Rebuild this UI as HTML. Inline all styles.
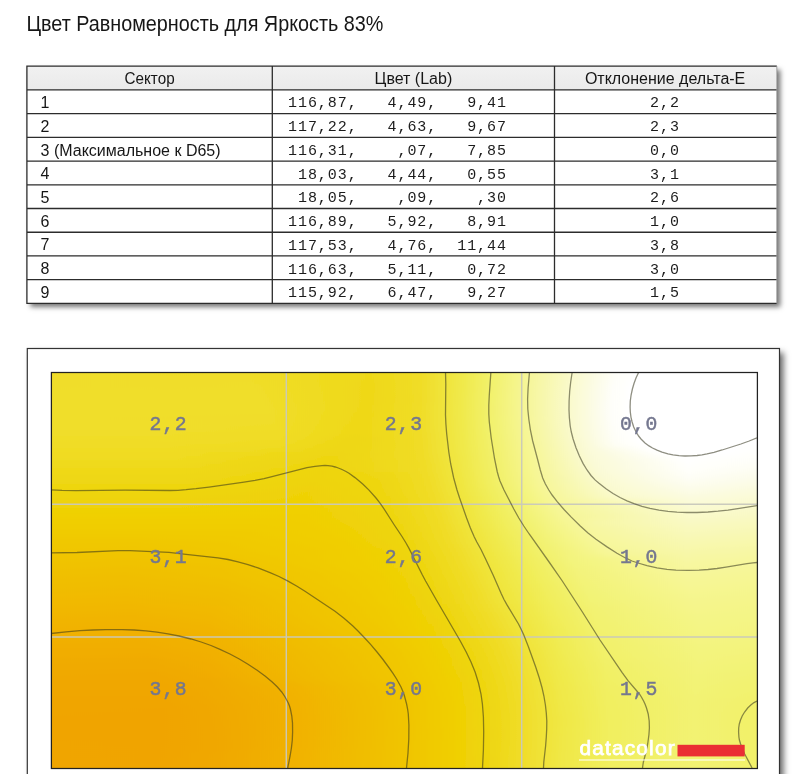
<!DOCTYPE html>
<html lang="ru"><head><meta charset="utf-8"><title>Цвет Равномерность</title>
<style>html,body{margin:0;padding:0;background:#fff}body{width:805px;height:774px;overflow:hidden}svg{display:block}</style>
</head><body>
<svg width="805" height="774" viewBox="0 0 805 774">
<defs>
<filter id="sh" x="-5%" y="-5%" width="110%" height="115%"><feDropShadow dx="3.5" dy="3.5" stdDeviation="2.7" flood-color="#000" flood-opacity=".55"/></filter>
<filter id="sh2" x="-5%" y="-5%" width="110%" height="110%"><feDropShadow dx="4" dy="4" stdDeviation="3" flood-color="#000" flood-opacity=".6"/></filter>
<filter id="vb" x="-2%" y="-5%" width="104%" height="110%"><feGaussianBlur stdDeviation="0 2.5"/></filter>
<linearGradient id="hd" x1="0" y1="0" x2="0" y2="1"><stop offset="0" stop-color="#f1f1f1"/><stop offset="1" stop-color="#eaeaea"/></linearGradient>
<clipPath id="cp"><rect x="51" y="372" width="706" height="396"/></clipPath>
<linearGradient id="g0"><stop offset="0" stop-color="#f0dd28"/><stop offset="0.0694" stop-color="#f0de2a"/><stop offset="0.1657" stop-color="#f0dd28"/><stop offset="0.2748" stop-color="#f0dd29"/><stop offset="0.4518" stop-color="#efd919"/><stop offset="0.5212" stop-color="#f0dd27"/><stop offset="0.5822" stop-color="#f0e94b"/><stop offset="0.6261" stop-color="#f2f26e"/><stop offset="0.6756" stop-color="#f6f699"/><stop offset="0.7465" stop-color="#fafad3"/><stop offset="0.7975" stop-color="#fefef8"/><stop offset="0.8272" stop-color="#fff"/><stop offset="1" stop-color="#fff"/></linearGradient>
<linearGradient id="g1"><stop offset="0" stop-color="#f0dd29"/><stop offset="0.0694" stop-color="#f0de2b"/><stop offset="0.1657" stop-color="#f0dd29"/><stop offset="0.2776" stop-color="#f0dd29"/><stop offset="0.4518" stop-color="#efd919"/><stop offset="0.5212" stop-color="#f0dc26"/><stop offset="0.5807" stop-color="#f0e94a"/><stop offset="0.6246" stop-color="#f2f26d"/><stop offset="0.6742" stop-color="#f6f699"/><stop offset="0.745" stop-color="#fafad3"/><stop offset="0.796" stop-color="#fefef8"/><stop offset="0.8258" stop-color="#fff"/><stop offset="1" stop-color="#fff"/></linearGradient>
<linearGradient id="g2"><stop offset="0" stop-color="#f0dd29"/><stop offset="0.068" stop-color="#f0de2b"/><stop offset="0.1657" stop-color="#f0dd29"/><stop offset="0.2805" stop-color="#f0de29"/><stop offset="0.4518" stop-color="#efd818"/><stop offset="0.5227" stop-color="#f0dd27"/><stop offset="0.5807" stop-color="#f0e94a"/><stop offset="0.6246" stop-color="#f2f26d"/><stop offset="0.6742" stop-color="#f6f699"/><stop offset="0.7436" stop-color="#fafad2"/><stop offset="0.7946" stop-color="#fefef8"/><stop offset="0.8229" stop-color="#fff"/><stop offset="1" stop-color="#fff"/></linearGradient>
<linearGradient id="g3"><stop offset="0" stop-color="#f0dd29"/><stop offset="0.068" stop-color="#f0de2b"/><stop offset="0.1657" stop-color="#f0dd29"/><stop offset="0.2833" stop-color="#f0de2a"/><stop offset="0.4518" stop-color="#efd818"/><stop offset="0.5227" stop-color="#f0dd27"/><stop offset="0.5822" stop-color="#f0e94b"/><stop offset="0.6246" stop-color="#f2f26e"/><stop offset="0.6728" stop-color="#f6f698"/><stop offset="0.7436" stop-color="#fafad3"/><stop offset="0.7946" stop-color="#fefef9"/><stop offset="0.8215" stop-color="#fff"/><stop offset="1" stop-color="#fff"/></linearGradient>
<linearGradient id="g4"><stop offset="0" stop-color="#f0de2a"/><stop offset="0.0666" stop-color="#f0de2b"/><stop offset="0.1643" stop-color="#f0de2a"/><stop offset="0.2875" stop-color="#f0de2a"/><stop offset="0.4504" stop-color="#efd818"/><stop offset="0.5227" stop-color="#f0dd27"/><stop offset="0.5807" stop-color="#f0e94a"/><stop offset="0.6232" stop-color="#f2f16d"/><stop offset="0.6728" stop-color="#f6f699"/><stop offset="0.7422" stop-color="#fafad2"/><stop offset="0.7932" stop-color="#fefef9"/><stop offset="0.8201" stop-color="#fff"/><stop offset="1" stop-color="#fff"/></linearGradient>
<linearGradient id="g5"><stop offset="0" stop-color="#f0de2a"/><stop offset="0.0652" stop-color="#f0de2c"/><stop offset="0.2904" stop-color="#f0de2a"/><stop offset="0.4504" stop-color="#efd818"/><stop offset="0.5227" stop-color="#f0dd27"/><stop offset="0.5807" stop-color="#f0e94b"/><stop offset="0.6232" stop-color="#f2f26d"/><stop offset="0.6728" stop-color="#f6f699"/><stop offset="0.7422" stop-color="#fafad3"/><stop offset="0.7932" stop-color="#fefef9"/><stop offset="0.8201" stop-color="#fff"/><stop offset="1" stop-color="#fff"/></linearGradient>
<linearGradient id="g6"><stop offset="0" stop-color="#f0de2a"/><stop offset="0.0623" stop-color="#f0de2c"/><stop offset="0.2946" stop-color="#f0de2a"/><stop offset="0.449" stop-color="#efd818"/><stop offset="0.5212" stop-color="#f0dc26"/><stop offset="0.5807" stop-color="#f0e94b"/><stop offset="0.6232" stop-color="#f2f26d"/><stop offset="0.6728" stop-color="#f6f699"/><stop offset="0.7422" stop-color="#fafad3"/><stop offset="0.7932" stop-color="#fefef9"/><stop offset="0.8187" stop-color="#fff"/><stop offset="1" stop-color="#fff"/></linearGradient>
<linearGradient id="g7"><stop offset="0" stop-color="#f0de2a"/><stop offset="0.0581" stop-color="#f0de2c"/><stop offset="0.2989" stop-color="#f0de2a"/><stop offset="0.449" stop-color="#efd818"/><stop offset="0.5212" stop-color="#f0dc26"/><stop offset="0.5807" stop-color="#f0e94b"/><stop offset="0.6232" stop-color="#f2f26e"/><stop offset="0.6728" stop-color="#f6f699"/><stop offset="0.7422" stop-color="#fafad3"/><stop offset="0.7918" stop-color="#fefef9"/><stop offset="0.8187" stop-color="#fff"/><stop offset="1" stop-color="#fff"/></linearGradient>
<linearGradient id="g8"><stop offset="0" stop-color="#f0de2b"/><stop offset="0.0538" stop-color="#f0de2c"/><stop offset="0.3017" stop-color="#f0de2a"/><stop offset="0.4476" stop-color="#efd818"/><stop offset="0.5212" stop-color="#f0dd27"/><stop offset="0.5793" stop-color="#f0e94a"/><stop offset="0.6218" stop-color="#f2f16d"/><stop offset="0.6714" stop-color="#f6f698"/><stop offset="0.7408" stop-color="#fafad2"/><stop offset="0.7918" stop-color="#fefef9"/><stop offset="0.8173" stop-color="#fff"/><stop offset="1" stop-color="#fff"/></linearGradient>
<linearGradient id="g9"><stop offset="0" stop-color="#f0de2b"/><stop offset="0.0482" stop-color="#f0de2c"/><stop offset="0.3059" stop-color="#f0de2a"/><stop offset="0.4462" stop-color="#efd818"/><stop offset="0.5212" stop-color="#f0dd27"/><stop offset="0.5793" stop-color="#f0e94a"/><stop offset="0.6218" stop-color="#f2f16d"/><stop offset="0.6728" stop-color="#f6f699"/><stop offset="0.7408" stop-color="#fafad2"/><stop offset="0.7918" stop-color="#fefef9"/><stop offset="0.8173" stop-color="#fff"/><stop offset="1" stop-color="#fff"/></linearGradient>
<linearGradient id="g10"><stop offset="0" stop-color="#f0de2b"/><stop offset="0.0425" stop-color="#f0de2c"/><stop offset="0.3088" stop-color="#f0de2a"/><stop offset="0.4448" stop-color="#efd817"/><stop offset="0.5212" stop-color="#f0dd27"/><stop offset="0.5793" stop-color="#f0e94a"/><stop offset="0.6218" stop-color="#f2f16d"/><stop offset="0.6728" stop-color="#f6f698"/><stop offset="0.7408" stop-color="#fafad2"/><stop offset="0.7918" stop-color="#fefef9"/><stop offset="0.8187" stop-color="#fff"/><stop offset="1" stop-color="#fff"/></linearGradient>
<linearGradient id="g11"><stop offset="0" stop-color="#f0de2a"/><stop offset="0.0368" stop-color="#f0de2b"/><stop offset="0.3116" stop-color="#f0dd29"/><stop offset="0.4433" stop-color="#efd817"/><stop offset="0.5212" stop-color="#f0dd27"/><stop offset="0.5807" stop-color="#f0e94b"/><stop offset="0.6232" stop-color="#f2f26e"/><stop offset="0.6785" stop-color="#f7f79d"/><stop offset="0.745" stop-color="#fafad5"/><stop offset="0.7932" stop-color="#fefef9"/><stop offset="0.8187" stop-color="#fff"/><stop offset="1" stop-color="#fff"/></linearGradient>
<linearGradient id="g12"><stop offset="0" stop-color="#f0de2a"/><stop offset="0.1615" stop-color="#f0de2b"/><stop offset="0.3144" stop-color="#f0dd29"/><stop offset="0.4405" stop-color="#efd817"/><stop offset="0.5212" stop-color="#f0dd27"/><stop offset="0.5807" stop-color="#f0e94a"/><stop offset="0.6232" stop-color="#f2f26d"/><stop offset="0.6742" stop-color="#f6f699"/><stop offset="0.7422" stop-color="#fafad3"/><stop offset="0.7932" stop-color="#fefef9"/><stop offset="0.8201" stop-color="#fff"/><stop offset="1" stop-color="#fff"/></linearGradient>
<linearGradient id="g13"><stop offset="0" stop-color="#f0de2a"/><stop offset="0.1629" stop-color="#f0de2a"/><stop offset="0.3173" stop-color="#f0dd28"/><stop offset="0.4391" stop-color="#efd816"/><stop offset="0.5212" stop-color="#f0dd27"/><stop offset="0.5807" stop-color="#f0e94a"/><stop offset="0.6232" stop-color="#f2f26d"/><stop offset="0.6742" stop-color="#f6f698"/><stop offset="0.7436" stop-color="#fafad3"/><stop offset="0.7932" stop-color="#fefef8"/><stop offset="0.8215" stop-color="#fff"/><stop offset="1" stop-color="#fff"/></linearGradient>
<linearGradient id="g14"><stop offset="0" stop-color="#f0de29"/><stop offset="0.1643" stop-color="#f0de2a"/><stop offset="0.3201" stop-color="#f0dd27"/><stop offset="0.4363" stop-color="#efd816"/><stop offset="0.5212" stop-color="#f0dd27"/><stop offset="0.5822" stop-color="#f0e94b"/><stop offset="0.6246" stop-color="#f2f26e"/><stop offset="0.6756" stop-color="#f6f698"/><stop offset="0.7436" stop-color="#fafad3"/><stop offset="0.7946" stop-color="#fefef8"/><stop offset="0.8244" stop-color="#fff"/><stop offset="1" stop-color="#fff"/></linearGradient>
<linearGradient id="g15"><stop offset="0" stop-color="#f0dd29"/><stop offset="0.1657" stop-color="#f0dd29"/><stop offset="0.2422" stop-color="#f0dc26"/><stop offset="0.3215" stop-color="#f0dc26"/><stop offset="0.4334" stop-color="#efd816"/><stop offset="0.5212" stop-color="#f0dc26"/><stop offset="0.5807" stop-color="#f0e949"/><stop offset="0.6246" stop-color="#f2f26d"/><stop offset="0.6771" stop-color="#f6f699"/><stop offset="0.745" stop-color="#fafad3"/><stop offset="0.796" stop-color="#fefef8"/><stop offset="0.8258" stop-color="#fff"/><stop offset="1" stop-color="#fff"/></linearGradient>
<linearGradient id="g16"><stop offset="0" stop-color="#f0dd28"/><stop offset="0.0992" stop-color="#f0dd27"/><stop offset="0.1657" stop-color="#f0dd28"/><stop offset="0.3229" stop-color="#f0dc25"/><stop offset="0.4292" stop-color="#eed715"/><stop offset="0.5212" stop-color="#f0dc26"/><stop offset="0.5822" stop-color="#f0e94a"/><stop offset="0.6261" stop-color="#f2f26d"/><stop offset="0.6785" stop-color="#f6f699"/><stop offset="0.7465" stop-color="#fafad3"/><stop offset="0.796" stop-color="#fefef7"/><stop offset="0.8286" stop-color="#fff"/><stop offset="1" stop-color="#fff"/></linearGradient>
<linearGradient id="g17"><stop offset="0" stop-color="#f0dd27"/><stop offset="0.0992" stop-color="#f0dc26"/><stop offset="0.1657" stop-color="#f0dd27"/><stop offset="0.3215" stop-color="#f0db23"/><stop offset="0.4263" stop-color="#eed714"/><stop offset="0.5212" stop-color="#f0dc26"/><stop offset="0.5822" stop-color="#f0e94a"/><stop offset="0.6261" stop-color="#f2f16d"/><stop offset="0.6799" stop-color="#f6f699"/><stop offset="0.7479" stop-color="#fafad2"/><stop offset="0.7975" stop-color="#fefef6"/><stop offset="0.8329" stop-color="#fff"/><stop offset="1" stop-color="#fff"/></linearGradient>
<linearGradient id="g18"><stop offset="0" stop-color="#f0dc25"/><stop offset="0.1657" stop-color="#f0dc25"/><stop offset="0.3173" stop-color="#f0db21"/><stop offset="0.4207" stop-color="#eed713"/><stop offset="0.5227" stop-color="#f0dc26"/><stop offset="0.5822" stop-color="#f0e949"/><stop offset="0.6275" stop-color="#f2f26d"/><stop offset="0.6813" stop-color="#f6f699"/><stop offset="0.7493" stop-color="#fafad2"/><stop offset="0.7989" stop-color="#fefef5"/><stop offset="0.8385" stop-color="#fff"/><stop offset="1" stop-color="#fffffe"/></linearGradient>
<linearGradient id="g19"><stop offset="0" stop-color="#f0dc24"/><stop offset="0.1671" stop-color="#f0dc24"/><stop offset="0.3102" stop-color="#efda1f"/><stop offset="0.415" stop-color="#eed713"/><stop offset="0.5227" stop-color="#f0dc26"/><stop offset="0.5822" stop-color="#f0e949"/><stop offset="0.6275" stop-color="#f2f16c"/><stop offset="0.687" stop-color="#f7f79c"/><stop offset="0.7578" stop-color="#fafad7"/><stop offset="0.8499" stop-color="#fff"/><stop offset="0.9618" stop-color="#fff"/><stop offset="1" stop-color="#fffffd"/></linearGradient>
<linearGradient id="g20"><stop offset="0" stop-color="#f0db22"/><stop offset="0.1799" stop-color="#f0db22"/><stop offset="0.4079" stop-color="#eed612"/><stop offset="0.5227" stop-color="#f0dc26"/><stop offset="0.5822" stop-color="#f0e848"/><stop offset="0.6289" stop-color="#f2f16d"/><stop offset="0.6898" stop-color="#f7f79d"/><stop offset="0.7606" stop-color="#fafad7"/><stop offset="0.8654" stop-color="#fff"/><stop offset="0.9518" stop-color="#fff"/><stop offset="1" stop-color="#fffffc"/></linearGradient>
<linearGradient id="g21"><stop offset="0" stop-color="#f0db20"/><stop offset="0.1799" stop-color="#f0db20"/><stop offset="0.3994" stop-color="#eed610"/><stop offset="0.5241" stop-color="#f0dc26"/><stop offset="0.5807" stop-color="#f0e846"/><stop offset="0.6289" stop-color="#f2f16c"/><stop offset="0.6898" stop-color="#f7f79c"/><stop offset="0.7635" stop-color="#fafad7"/><stop offset="0.8881" stop-color="#fff"/><stop offset="1" stop-color="#fefefa"/></linearGradient>
<linearGradient id="g22"><stop offset="0" stop-color="#efda1e"/><stop offset="0.1799" stop-color="#efda1e"/><stop offset="0.3938" stop-color="#eed50f"/><stop offset="0.5241" stop-color="#f0dc25"/><stop offset="0.5793" stop-color="#f0e745"/><stop offset="0.6303" stop-color="#f2f16c"/><stop offset="0.6926" stop-color="#f7f79d"/><stop offset="0.7677" stop-color="#fafad7"/><stop offset="0.8994" stop-color="#fffffe"/><stop offset="1" stop-color="#fefef8"/></linearGradient>
<linearGradient id="g23"><stop offset="0" stop-color="#efd91b"/><stop offset="0.1799" stop-color="#efd91c"/><stop offset="0.3895" stop-color="#eed50e"/><stop offset="0.5255" stop-color="#f0dc25"/><stop offset="0.5737" stop-color="#f0e640"/><stop offset="0.6303" stop-color="#f2f16b"/><stop offset="0.6926" stop-color="#f7f79c"/><stop offset="0.7705" stop-color="#fafad7"/><stop offset="0.9008" stop-color="#fffffd"/><stop offset="1" stop-color="#fefef5"/></linearGradient>
<linearGradient id="g24"><stop offset="0" stop-color="#efd919"/><stop offset="0.1799" stop-color="#efd919"/><stop offset="0.3839" stop-color="#eed40d"/><stop offset="0.5269" stop-color="#f0dc26"/><stop offset="0.5751" stop-color="#f0e640"/><stop offset="0.6317" stop-color="#f2f16b"/><stop offset="0.6941" stop-color="#f7f79c"/><stop offset="0.7748" stop-color="#fafad7"/><stop offset="0.9008" stop-color="#fffffb"/><stop offset="1" stop-color="#fdfdf2"/></linearGradient>
<linearGradient id="g25"><stop offset="0" stop-color="#efd817"/><stop offset="0.1799" stop-color="#efd817"/><stop offset="0.3796" stop-color="#eed40c"/><stop offset="0.4646" stop-color="#eed713"/><stop offset="0.5283" stop-color="#f0dc26"/><stop offset="0.5751" stop-color="#f0e63f"/><stop offset="0.6317" stop-color="#f2f16a"/><stop offset="0.6955" stop-color="#f7f79c"/><stop offset="0.779" stop-color="#fafad6"/><stop offset="0.9023" stop-color="#fefef9"/><stop offset="1" stop-color="#fdfdee"/></linearGradient>
<linearGradient id="g26"><stop offset="0" stop-color="#eed715"/><stop offset="0.1799" stop-color="#eed715"/><stop offset="0.3754" stop-color="#eed40b"/><stop offset="0.4646" stop-color="#eed712"/><stop offset="0.5312" stop-color="#f0dc26"/><stop offset="0.5765" stop-color="#f0e63f"/><stop offset="0.6331" stop-color="#f2f16a"/><stop offset="0.6941" stop-color="#f6f699"/><stop offset="0.779" stop-color="#fafad3"/><stop offset="0.9023" stop-color="#fefef6"/><stop offset="1" stop-color="#fcfcea"/></linearGradient>
<linearGradient id="g27"><stop offset="0" stop-color="#eed712"/><stop offset="0.1799" stop-color="#eed713"/><stop offset="0.3711" stop-color="#eed309"/><stop offset="0.4646" stop-color="#eed611"/><stop offset="0.5326" stop-color="#f0dc26"/><stop offset="0.5779" stop-color="#f0e63f"/><stop offset="0.6346" stop-color="#f2f16a"/><stop offset="0.6969" stop-color="#f6f79a"/><stop offset="0.7847" stop-color="#fafad2"/><stop offset="0.9023" stop-color="#fdfdf2"/><stop offset="1" stop-color="#fcfce6"/></linearGradient>
<linearGradient id="g28"><stop offset="0" stop-color="#eed610"/><stop offset="0.1813" stop-color="#eed610"/><stop offset="0.3683" stop-color="#efd308"/><stop offset="0.466" stop-color="#eed611"/><stop offset="0.534" stop-color="#f0dc26"/><stop offset="0.5793" stop-color="#f0e63f"/><stop offset="0.636" stop-color="#f2f169"/><stop offset="0.7011" stop-color="#f7f79b"/><stop offset="0.789" stop-color="#fafad1"/><stop offset="0.9037" stop-color="#fdfded"/><stop offset="1" stop-color="#fcfce2"/></linearGradient>
<linearGradient id="g29"><stop offset="0" stop-color="#eed50e"/><stop offset="0.1813" stop-color="#eed50e"/><stop offset="0.3654" stop-color="#efd207"/><stop offset="0.466" stop-color="#eed610"/><stop offset="0.5354" stop-color="#f0dc26"/><stop offset="0.5807" stop-color="#f0e63f"/><stop offset="0.636" stop-color="#f1f067"/><stop offset="0.6629" stop-color="#f3f47b"/><stop offset="0.704" stop-color="#f7f79b"/><stop offset="0.7946" stop-color="#fafad0"/><stop offset="0.9037" stop-color="#fcfce8"/><stop offset="1" stop-color="#fbfbdd"/></linearGradient>
<linearGradient id="g30"><stop offset="0" stop-color="#eed40c"/><stop offset="0.1813" stop-color="#eed40c"/><stop offset="0.3626" stop-color="#efd206"/><stop offset="0.4688" stop-color="#eed610"/><stop offset="0.5382" stop-color="#f0dc26"/><stop offset="0.5822" stop-color="#f0e63f"/><stop offset="0.6374" stop-color="#f1f066"/><stop offset="0.6657" stop-color="#f3f47b"/><stop offset="0.7068" stop-color="#f6f79a"/><stop offset="0.7989" stop-color="#faface"/><stop offset="0.9037" stop-color="#fcfce3"/><stop offset="1" stop-color="#fbfbd9"/></linearGradient>
<linearGradient id="g31"><stop offset="0" stop-color="#eed30a"/><stop offset="0.1813" stop-color="#eed30a"/><stop offset="0.3598" stop-color="#efd106"/><stop offset="0.4788" stop-color="#eed611"/><stop offset="0.5397" stop-color="#f0dc26"/><stop offset="0.5864" stop-color="#f0e640"/><stop offset="0.6402" stop-color="#f1f066"/><stop offset="0.6686" stop-color="#f3f47b"/><stop offset="0.7125" stop-color="#f7f79b"/><stop offset="0.8045" stop-color="#fafacc"/><stop offset="0.9051" stop-color="#fbfbde"/><stop offset="1" stop-color="#fafad5"/></linearGradient>
<linearGradient id="g32"><stop offset="0" stop-color="#efd308"/><stop offset="0.1813" stop-color="#efd308"/><stop offset="0.3598" stop-color="#efd105"/><stop offset="0.4802" stop-color="#eed611"/><stop offset="0.5411" stop-color="#f0dc26"/><stop offset="0.5878" stop-color="#f0e640"/><stop offset="0.6416" stop-color="#f1f065"/><stop offset="0.67" stop-color="#f3f37a"/><stop offset="0.7167" stop-color="#f7f79b"/><stop offset="0.9051" stop-color="#fbfbd9"/><stop offset="1" stop-color="#fafad1"/></linearGradient>
<linearGradient id="g33"><stop offset="0" stop-color="#efd207"/><stop offset="0.1827" stop-color="#efd207"/><stop offset="0.3569" stop-color="#f0d004"/><stop offset="0.4717" stop-color="#eed50f"/><stop offset="0.5439" stop-color="#f0dc26"/><stop offset="0.5892" stop-color="#f0e63f"/><stop offset="0.6431" stop-color="#f1f064"/><stop offset="0.6728" stop-color="#f3f37a"/><stop offset="0.721" stop-color="#f7f79b"/><stop offset="0.9051" stop-color="#fafad4"/><stop offset="1" stop-color="#fafacd"/></linearGradient>
<linearGradient id="g34"><stop offset="0" stop-color="#efd105"/><stop offset="0.1841" stop-color="#efd105"/><stop offset="0.3584" stop-color="#f0d003"/><stop offset="0.4745" stop-color="#eed50e"/><stop offset="0.5453" stop-color="#f0dc26"/><stop offset="0.5907" stop-color="#f0e63f"/><stop offset="0.6445" stop-color="#f1f063"/><stop offset="0.6756" stop-color="#f3f379"/><stop offset="0.7252" stop-color="#f6f79a"/><stop offset="0.9051" stop-color="#fafad0"/><stop offset="1" stop-color="#f9f9c9"/></linearGradient>
<linearGradient id="g35"><stop offset="0" stop-color="#f0d004"/><stop offset="0.3598" stop-color="#f0cf03"/><stop offset="0.4788" stop-color="#eed50f"/><stop offset="0.5482" stop-color="#f0dc26"/><stop offset="0.5921" stop-color="#f0e63f"/><stop offset="0.6445" stop-color="#f1ef61"/><stop offset="0.6771" stop-color="#f3f378"/><stop offset="0.7266" stop-color="#f6f698"/><stop offset="0.9051" stop-color="#fafacc"/><stop offset="1" stop-color="#f9f9c6"/></linearGradient>
<linearGradient id="g36"><stop offset="0" stop-color="#f0cf03"/><stop offset="0.364" stop-color="#f0cf03"/><stop offset="0.4816" stop-color="#eed50e"/><stop offset="0.5482" stop-color="#f0dc25"/><stop offset="0.5949" stop-color="#f0e63f"/><stop offset="0.6459" stop-color="#f1ef60"/><stop offset="0.6785" stop-color="#f2f376"/><stop offset="0.7266" stop-color="#f6f695"/><stop offset="0.9037" stop-color="#f9f9c8"/><stop offset="1" stop-color="#f9f9c2"/></linearGradient>
<linearGradient id="g37"><stop offset="0" stop-color="#f0ce02"/><stop offset="0.3059" stop-color="#f0ce02"/><stop offset="0.3711" stop-color="#f0cf02"/><stop offset="0.4858" stop-color="#eed50f"/><stop offset="0.551" stop-color="#f0dc26"/><stop offset="0.5977" stop-color="#f0e640"/><stop offset="0.6459" stop-color="#f1ee5e"/><stop offset="0.6771" stop-color="#f2f273"/><stop offset="0.7167" stop-color="#f5f58c"/><stop offset="0.7705" stop-color="#f8f8a9"/><stop offset="0.9037" stop-color="#f9f9c4"/><stop offset="1" stop-color="#f9f9be"/></linearGradient>
<linearGradient id="g38"><stop offset="0" stop-color="#f0cd01"/><stop offset="0.2946" stop-color="#f0cd02"/><stop offset="0.381" stop-color="#f0cf02"/><stop offset="0.4887" stop-color="#eed50e"/><stop offset="0.5524" stop-color="#f0dc25"/><stop offset="0.5992" stop-color="#f0e63f"/><stop offset="0.6459" stop-color="#f1ee5c"/><stop offset="0.6742" stop-color="#f2f26e"/><stop offset="0.7068" stop-color="#f4f483"/><stop offset="0.7635" stop-color="#f7f7a2"/><stop offset="0.9023" stop-color="#f9f9c0"/><stop offset="1" stop-color="#f9f9ba"/></linearGradient>
<linearGradient id="g39"><stop offset="0" stop-color="#f0cc01"/><stop offset="0.2805" stop-color="#f0cc01"/><stop offset="0.3924" stop-color="#f0cf02"/><stop offset="0.4915" stop-color="#eed50e"/><stop offset="0.5552" stop-color="#f0dc26"/><stop offset="0.6006" stop-color="#f0e53e"/><stop offset="0.6445" stop-color="#f1ed59"/><stop offset="0.7025" stop-color="#f3f47e"/><stop offset="0.7649" stop-color="#f7f7a0"/><stop offset="0.9008" stop-color="#f9f9bc"/><stop offset="1" stop-color="#f8f8b7"/></linearGradient>
<linearGradient id="g40"><stop offset="0" stop-color="#f0ca01"/><stop offset="0.2663" stop-color="#f0cb01"/><stop offset="0.4023" stop-color="#f0cf02"/><stop offset="0.4943" stop-color="#eed50e"/><stop offset="0.5581" stop-color="#f0dc26"/><stop offset="0.602" stop-color="#f0e53e"/><stop offset="0.6431" stop-color="#f1ec56"/><stop offset="0.7011" stop-color="#f3f37a"/><stop offset="0.7691" stop-color="#f7f79f"/><stop offset="0.9008" stop-color="#f8f8b9"/><stop offset="1" stop-color="#f8f8b3"/></linearGradient>
<linearGradient id="g41"><stop offset="0" stop-color="#f0c900"/><stop offset="0.1232" stop-color="#f0c900"/><stop offset="0.2535" stop-color="#f0ca01"/><stop offset="0.4079" stop-color="#f0cf02"/><stop offset="0.4929" stop-color="#eed50d"/><stop offset="0.5595" stop-color="#f0dc26"/><stop offset="0.6048" stop-color="#f0e53e"/><stop offset="0.6416" stop-color="#f0ec53"/><stop offset="0.7011" stop-color="#f3f377"/><stop offset="0.7734" stop-color="#f7f79d"/><stop offset="0.8994" stop-color="#f8f8b5"/><stop offset="1" stop-color="#f8f8af"/></linearGradient>
<linearGradient id="g42"><stop offset="0" stop-color="#f0c800"/><stop offset="0.1176" stop-color="#f0c800"/><stop offset="0.245" stop-color="#f0c900"/><stop offset="0.4108" stop-color="#f0ce02"/><stop offset="0.4858" stop-color="#eed40b"/><stop offset="0.5156" stop-color="#eed612"/><stop offset="0.5637" stop-color="#f0dd27"/><stop offset="0.6374" stop-color="#f0ea4f"/><stop offset="0.7011" stop-color="#f2f375"/><stop offset="0.779" stop-color="#f7f79c"/><stop offset="0.8994" stop-color="#f8f8b1"/><stop offset="1" stop-color="#f8f8ac"/></linearGradient>
<linearGradient id="g43"><stop offset="0" stop-color="#f0c700"/><stop offset="0.1133" stop-color="#f0c600"/><stop offset="0.2408" stop-color="#f0c800"/><stop offset="0.4136" stop-color="#f0ce02"/><stop offset="0.4802" stop-color="#efd309"/><stop offset="0.5127" stop-color="#eed610"/><stop offset="0.5652" stop-color="#f0dc26"/><stop offset="0.6331" stop-color="#f0e94b"/><stop offset="0.6997" stop-color="#f2f272"/><stop offset="0.7819" stop-color="#f6f79a"/><stop offset="0.898" stop-color="#f8f8ae"/><stop offset="1" stop-color="#f8f8a8"/></linearGradient>
<linearGradient id="g44"><stop offset="0" stop-color="#f0c600"/><stop offset="0.1686" stop-color="#f0c600"/><stop offset="0.3853" stop-color="#f0cc01"/><stop offset="0.4377" stop-color="#f0cf03"/><stop offset="0.4745" stop-color="#efd207"/><stop offset="0.5142" stop-color="#eed610"/><stop offset="0.568" stop-color="#f0dc26"/><stop offset="0.6232" stop-color="#f0e743"/><stop offset="0.6643" stop-color="#f1ee5b"/><stop offset="0.6997" stop-color="#f2f26f"/><stop offset="0.7847" stop-color="#f6f698"/><stop offset="0.898" stop-color="#f8f8aa"/><stop offset="1" stop-color="#f7f7a5"/></linearGradient>
<linearGradient id="g45"><stop offset="0" stop-color="#f0c500"/><stop offset="0.1686" stop-color="#f0c500"/><stop offset="0.364" stop-color="#f0cb01"/><stop offset="0.4377" stop-color="#f0cf02"/><stop offset="0.4745" stop-color="#efd106"/><stop offset="0.5156" stop-color="#eed60f"/><stop offset="0.5708" stop-color="#f0dc26"/><stop offset="0.619" stop-color="#f0e63f"/><stop offset="0.6629" stop-color="#f1ed58"/><stop offset="0.7011" stop-color="#f2f26e"/><stop offset="0.7875" stop-color="#f6f696"/><stop offset="0.898" stop-color="#f7f7a7"/><stop offset="1" stop-color="#f7f7a2"/></linearGradient>
<linearGradient id="g46"><stop offset="0" stop-color="#f0c400"/><stop offset="0.1091" stop-color="#f0c300"/><stop offset="0.2436" stop-color="#f0c500"/><stop offset="0.4433" stop-color="#f0cf02"/><stop offset="0.4929" stop-color="#efd309"/><stop offset="0.5241" stop-color="#eed611"/><stop offset="0.5737" stop-color="#f0dc26"/><stop offset="0.6218" stop-color="#f0e63f"/><stop offset="0.6841" stop-color="#f1ef62"/><stop offset="0.7351" stop-color="#f3f47d"/><stop offset="0.898" stop-color="#f7f7a4"/><stop offset="1" stop-color="#f7f79f"/></linearGradient>
<linearGradient id="g47"><stop offset="0" stop-color="#f0c300"/><stop offset="0.1076" stop-color="#f0c200"/><stop offset="0.2422" stop-color="#f0c400"/><stop offset="0.4476" stop-color="#f0cf02"/><stop offset="0.4929" stop-color="#efd208"/><stop offset="0.5255" stop-color="#eed611"/><stop offset="0.5737" stop-color="#f0dc25"/><stop offset="0.6261" stop-color="#f0e640"/><stop offset="0.6856" stop-color="#f1ef61"/><stop offset="0.7365" stop-color="#f3f47c"/><stop offset="0.898" stop-color="#f7f7a1"/><stop offset="1" stop-color="#f7f79c"/></linearGradient>
<linearGradient id="g48"><stop offset="0" stop-color="#f0c200"/><stop offset="0.1062" stop-color="#f0c100"/><stop offset="0.2408" stop-color="#f0c300"/><stop offset="0.4518" stop-color="#f0cf02"/><stop offset="0.4943" stop-color="#efd208"/><stop offset="0.5269" stop-color="#eed610"/><stop offset="0.5765" stop-color="#f0dc25"/><stop offset="0.6275" stop-color="#f0e63f"/><stop offset="0.6884" stop-color="#f1ef60"/><stop offset="0.7408" stop-color="#f3f47b"/><stop offset="0.898" stop-color="#f7f79e"/><stop offset="1" stop-color="#f6f699"/></linearGradient>
<linearGradient id="g49"><stop offset="0" stop-color="#f0c100"/><stop offset="0.1048" stop-color="#f0c000"/><stop offset="0.2408" stop-color="#f0c200"/><stop offset="0.3683" stop-color="#f0c900"/><stop offset="0.4561" stop-color="#f0cf02"/><stop offset="0.4972" stop-color="#efd207"/><stop offset="0.5297" stop-color="#eed610"/><stop offset="0.5793" stop-color="#f0dc25"/><stop offset="0.6303" stop-color="#f0e63f"/><stop offset="0.6912" stop-color="#f1ef60"/><stop offset="0.7436" stop-color="#f3f37a"/><stop offset="0.898" stop-color="#f7f79c"/><stop offset="1" stop-color="#f6f697"/></linearGradient>
<linearGradient id="g50"><stop offset="0" stop-color="#f0c000"/><stop offset="0.1034" stop-color="#f0bf00"/><stop offset="0.2394" stop-color="#f0c200"/><stop offset="0.3711" stop-color="#f0c800"/><stop offset="0.4603" stop-color="#f0ce02"/><stop offset="0.4972" stop-color="#efd207"/><stop offset="0.5312" stop-color="#eed610"/><stop offset="0.5822" stop-color="#f0dc25"/><stop offset="0.6331" stop-color="#f0e63f"/><stop offset="0.6926" stop-color="#f1ef5f"/><stop offset="0.7465" stop-color="#f3f37a"/><stop offset="0.8994" stop-color="#f6f699"/><stop offset="1" stop-color="#f6f695"/></linearGradient>
<linearGradient id="g51"><stop offset="0" stop-color="#f0bf00"/><stop offset="0.1034" stop-color="#f0be00"/><stop offset="0.2394" stop-color="#f0c100"/><stop offset="0.3754" stop-color="#f0c800"/><stop offset="0.4646" stop-color="#f0ce02"/><stop offset="0.4986" stop-color="#efd206"/><stop offset="0.5326" stop-color="#eed60f"/><stop offset="0.585" stop-color="#f0dc25"/><stop offset="0.636" stop-color="#f0e640"/><stop offset="0.6955" stop-color="#f1ef5f"/><stop offset="0.7493" stop-color="#f3f379"/><stop offset="0.8994" stop-color="#f6f697"/><stop offset="1" stop-color="#f6f693"/></linearGradient>
<linearGradient id="g52"><stop offset="0" stop-color="#f0be00"/><stop offset="0.1034" stop-color="#f0bd00"/><stop offset="0.2408" stop-color="#f0c000"/><stop offset="0.381" stop-color="#f0c800"/><stop offset="0.4688" stop-color="#f0ce02"/><stop offset="0.5014" stop-color="#efd206"/><stop offset="0.5354" stop-color="#eed60f"/><stop offset="0.5878" stop-color="#f0dc25"/><stop offset="0.6374" stop-color="#f0e63f"/><stop offset="0.6983" stop-color="#f1ef5e"/><stop offset="0.7521" stop-color="#f3f378"/><stop offset="0.9008" stop-color="#f6f695"/><stop offset="1" stop-color="#f6f691"/></linearGradient>
<linearGradient id="g53"><stop offset="0" stop-color="#f0bd00"/><stop offset="0.1034" stop-color="#f0bc00"/><stop offset="0.2394" stop-color="#f0bf00"/><stop offset="0.3853" stop-color="#f0c800"/><stop offset="0.4717" stop-color="#f0ce02"/><stop offset="0.5028" stop-color="#efd106"/><stop offset="0.5368" stop-color="#eed50f"/><stop offset="0.5907" stop-color="#f0dc25"/><stop offset="0.6402" stop-color="#f0e63f"/><stop offset="0.6997" stop-color="#f1ee5d"/><stop offset="0.755" stop-color="#f3f377"/><stop offset="0.9023" stop-color="#f6f693"/><stop offset="1" stop-color="#f5f690"/></linearGradient>
<linearGradient id="g54"><stop offset="0" stop-color="#f0bc00"/><stop offset="0.1048" stop-color="#f1bb00"/><stop offset="0.2408" stop-color="#f0be00"/><stop offset="0.3909" stop-color="#f0c700"/><stop offset="0.4759" stop-color="#f0ce02"/><stop offset="0.5057" stop-color="#efd106"/><stop offset="0.5397" stop-color="#eed50f"/><stop offset="0.5935" stop-color="#f0dc25"/><stop offset="0.6431" stop-color="#f0e63f"/><stop offset="0.7025" stop-color="#f1ee5d"/><stop offset="0.7578" stop-color="#f2f377"/><stop offset="0.9037" stop-color="#f6f691"/><stop offset="1" stop-color="#f5f58e"/></linearGradient>
<linearGradient id="g55"><stop offset="0" stop-color="#f1bb00"/><stop offset="0.1062" stop-color="#f1ba00"/><stop offset="0.2408" stop-color="#f0bd00"/><stop offset="0.3966" stop-color="#f0c700"/><stop offset="0.4788" stop-color="#f0ce02"/><stop offset="0.5071" stop-color="#efd106"/><stop offset="0.5425" stop-color="#eed50f"/><stop offset="0.5963" stop-color="#f0dc25"/><stop offset="0.6459" stop-color="#f0e63f"/><stop offset="0.7054" stop-color="#f1ee5d"/><stop offset="0.7606" stop-color="#f2f376"/><stop offset="0.9065" stop-color="#f5f68f"/><stop offset="1" stop-color="#f5f58c"/></linearGradient>
<linearGradient id="g56"><stop offset="0" stop-color="#f1ba00"/><stop offset="0.1076" stop-color="#f1b900"/><stop offset="0.2408" stop-color="#f0bc00"/><stop offset="0.4037" stop-color="#f0c700"/><stop offset="0.483" stop-color="#f0ce02"/><stop offset="0.5099" stop-color="#efd105"/><stop offset="0.5439" stop-color="#eed50e"/><stop offset="0.5992" stop-color="#f0dc26"/><stop offset="0.6473" stop-color="#f0e63f"/><stop offset="0.7068" stop-color="#f1ee5c"/><stop offset="0.7635" stop-color="#f2f375"/><stop offset="0.9079" stop-color="#f5f58e"/><stop offset="1" stop-color="#f5f58b"/></linearGradient>
<linearGradient id="g57"><stop offset="0" stop-color="#f1b900"/><stop offset="0.1091" stop-color="#f1b800"/><stop offset="0.238" stop-color="#f0bb00"/><stop offset="0.4065" stop-color="#f0c700"/><stop offset="0.4816" stop-color="#f0ce02"/><stop offset="0.5085" stop-color="#efd005"/><stop offset="0.5397" stop-color="#eed40c"/><stop offset="0.602" stop-color="#f0dc26"/><stop offset="0.6501" stop-color="#f0e63f"/><stop offset="0.7068" stop-color="#f1ee5a"/><stop offset="0.7635" stop-color="#f2f374"/><stop offset="0.9093" stop-color="#f5f58c"/><stop offset="1" stop-color="#f5f58a"/></linearGradient>
<linearGradient id="g58"><stop offset="0" stop-color="#f1b800"/><stop offset="0.1105" stop-color="#f1b700"/><stop offset="0.2337" stop-color="#f1ba00"/><stop offset="0.4065" stop-color="#f0c600"/><stop offset="0.4731" stop-color="#f0cc01"/><stop offset="0.5057" stop-color="#f0d004"/><stop offset="0.5368" stop-color="#eed30a"/><stop offset="0.5623" stop-color="#eed612"/><stop offset="0.6076" stop-color="#f0dd27"/><stop offset="0.653" stop-color="#f0e53e"/><stop offset="0.7082" stop-color="#f1ed59"/><stop offset="0.7649" stop-color="#f2f272"/><stop offset="0.9108" stop-color="#f5f58b"/><stop offset="1" stop-color="#f4f588"/></linearGradient>
<linearGradient id="g59"><stop offset="0" stop-color="#f1b700"/><stop offset="0.1119" stop-color="#f1b600"/><stop offset="0.2309" stop-color="#f1b900"/><stop offset="0.4688" stop-color="#f0cb01"/><stop offset="0.5057" stop-color="#f0cf03"/><stop offset="0.5368" stop-color="#eed309"/><stop offset="0.5637" stop-color="#eed611"/><stop offset="0.6119" stop-color="#f0dd28"/><stop offset="0.6558" stop-color="#f0e53e"/><stop offset="0.7082" stop-color="#f1ed58"/><stop offset="0.7663" stop-color="#f2f271"/><stop offset="0.9122" stop-color="#f5f58a"/><stop offset="1" stop-color="#f4f587"/></linearGradient>
<linearGradient id="g60"><stop offset="0" stop-color="#f1b600"/><stop offset="0.1147" stop-color="#f1b500"/><stop offset="0.228" stop-color="#f1b800"/><stop offset="0.4674" stop-color="#f0cb01"/><stop offset="0.5071" stop-color="#f0cf03"/><stop offset="0.5382" stop-color="#efd309"/><stop offset="0.5652" stop-color="#eed611"/><stop offset="0.6119" stop-color="#f0dc26"/><stop offset="0.6601" stop-color="#f0e63e"/><stop offset="0.711" stop-color="#f1ed58"/><stop offset="0.7691" stop-color="#f2f271"/><stop offset="0.9136" stop-color="#f4f588"/><stop offset="1" stop-color="#f4f586"/></linearGradient>
<linearGradient id="g61"><stop offset="0" stop-color="#f1b500"/><stop offset="0.1161" stop-color="#f1b400"/><stop offset="0.2266" stop-color="#f1b700"/><stop offset="0.466" stop-color="#f0ca01"/><stop offset="0.5099" stop-color="#f0cf03"/><stop offset="0.5397" stop-color="#efd208"/><stop offset="0.568" stop-color="#eed610"/><stop offset="0.6147" stop-color="#f0dc26"/><stop offset="0.6629" stop-color="#f0e53e"/><stop offset="0.7125" stop-color="#f1ed57"/><stop offset="0.7705" stop-color="#f2f270"/><stop offset="0.915" stop-color="#f4f587"/><stop offset="1" stop-color="#f4f585"/></linearGradient>
<linearGradient id="g62"><stop offset="0" stop-color="#f1b400"/><stop offset="0.119" stop-color="#f1b300"/><stop offset="0.2252" stop-color="#f1b600"/><stop offset="0.466" stop-color="#f0ca01"/><stop offset="0.5127" stop-color="#f0cf03"/><stop offset="0.5411" stop-color="#efd208"/><stop offset="0.5708" stop-color="#eed610"/><stop offset="0.6176" stop-color="#f0dc26"/><stop offset="0.6657" stop-color="#f0e53e"/><stop offset="0.7125" stop-color="#f1ec56"/><stop offset="0.7705" stop-color="#f2f26f"/><stop offset="0.9164" stop-color="#f4f586"/><stop offset="1" stop-color="#f4f484"/></linearGradient>
<linearGradient id="g63"><stop offset="0" stop-color="#f1b300"/><stop offset="0.1204" stop-color="#f1b200"/><stop offset="0.2238" stop-color="#f1b500"/><stop offset="0.466" stop-color="#f0c900"/><stop offset="0.5142" stop-color="#f0cf02"/><stop offset="0.5425" stop-color="#efd207"/><stop offset="0.5737" stop-color="#eed610"/><stop offset="0.6204" stop-color="#f0dc26"/><stop offset="0.6686" stop-color="#f0e53e"/><stop offset="0.7139" stop-color="#f1ec55"/><stop offset="0.7734" stop-color="#f2f26e"/><stop offset="0.9178" stop-color="#f4f585"/><stop offset="1" stop-color="#f4f483"/></linearGradient>
<linearGradient id="g64"><stop offset="0" stop-color="#f1b200"/><stop offset="0.1232" stop-color="#f1b100"/><stop offset="0.2238" stop-color="#f1b400"/><stop offset="0.4688" stop-color="#f0c900"/><stop offset="0.5184" stop-color="#f0cf02"/><stop offset="0.5453" stop-color="#efd207"/><stop offset="0.5765" stop-color="#eed610"/><stop offset="0.6246" stop-color="#f0dc26"/><stop offset="0.6714" stop-color="#f0e53e"/><stop offset="0.7153" stop-color="#f0ec54"/><stop offset="0.7748" stop-color="#f2f26e"/><stop offset="0.9178" stop-color="#f4f584"/><stop offset="1" stop-color="#f4f481"/></linearGradient>
<linearGradient id="g65"><stop offset="0" stop-color="#f1b100"/><stop offset="0.1246" stop-color="#f1b000"/><stop offset="0.2224" stop-color="#f1b300"/><stop offset="0.4703" stop-color="#f0c800"/><stop offset="0.5212" stop-color="#f0cf02"/><stop offset="0.5467" stop-color="#efd207"/><stop offset="0.5793" stop-color="#eed610"/><stop offset="0.6275" stop-color="#f0dc26"/><stop offset="0.6742" stop-color="#f0e53e"/><stop offset="0.7167" stop-color="#f0ec54"/><stop offset="0.7762" stop-color="#f2f16d"/><stop offset="0.9193" stop-color="#f4f483"/><stop offset="1" stop-color="#f3f480"/></linearGradient>
<linearGradient id="g66"><stop offset="0" stop-color="#f1b000"/><stop offset="0.1261" stop-color="#f1af00"/><stop offset="0.2224" stop-color="#f1b200"/><stop offset="0.4731" stop-color="#f0c800"/><stop offset="0.5241" stop-color="#f0ce02"/><stop offset="0.5496" stop-color="#efd206"/><stop offset="0.5822" stop-color="#eed610"/><stop offset="0.6303" stop-color="#f0dc26"/><stop offset="0.6756" stop-color="#f0e53e"/><stop offset="0.7181" stop-color="#f0ec53"/><stop offset="0.7776" stop-color="#f2f16c"/><stop offset="0.9193" stop-color="#f4f482"/><stop offset="1" stop-color="#f3f47f"/></linearGradient>
<linearGradient id="g67"><stop offset="0" stop-color="#f1af00"/><stop offset="0.1275" stop-color="#f1ae00"/><stop offset="0.2224" stop-color="#f1b200"/><stop offset="0.4745" stop-color="#f0c800"/><stop offset="0.5269" stop-color="#f0ce02"/><stop offset="0.551" stop-color="#efd106"/><stop offset="0.585" stop-color="#eed610"/><stop offset="0.6331" stop-color="#f0dc26"/><stop offset="0.6785" stop-color="#f0e53e"/><stop offset="0.7181" stop-color="#f0eb52"/><stop offset="0.779" stop-color="#f2f16b"/><stop offset="0.9193" stop-color="#f4f481"/><stop offset="1" stop-color="#f3f47e"/></linearGradient>
<linearGradient id="g68"><stop offset="0" stop-color="#f1ae00"/><stop offset="0.1303" stop-color="#f1ae00"/><stop offset="0.2224" stop-color="#f1b100"/><stop offset="0.4773" stop-color="#f0c800"/><stop offset="0.5297" stop-color="#f0ce02"/><stop offset="0.5538" stop-color="#efd106"/><stop offset="0.5892" stop-color="#eed610"/><stop offset="0.636" stop-color="#f0dc26"/><stop offset="0.6799" stop-color="#f0e53d"/><stop offset="0.7195" stop-color="#f0eb51"/><stop offset="0.7805" stop-color="#f2f16a"/><stop offset="0.9193" stop-color="#f3f47f"/><stop offset="1" stop-color="#f3f47c"/></linearGradient>
<linearGradient id="g69"><stop offset="0" stop-color="#f1ad00"/><stop offset="0.1317" stop-color="#f1ad00"/><stop offset="0.2224" stop-color="#f1b000"/><stop offset="0.4788" stop-color="#f0c700"/><stop offset="0.5326" stop-color="#f0ce02"/><stop offset="0.5552" stop-color="#efd105"/><stop offset="0.5907" stop-color="#eed60f"/><stop offset="0.6388" stop-color="#f0dc26"/><stop offset="0.7195" stop-color="#f0eb50"/><stop offset="0.7819" stop-color="#f2f16a"/><stop offset="0.9178" stop-color="#f3f47e"/><stop offset="1" stop-color="#f3f37b"/></linearGradient>
<linearGradient id="g70"><stop offset="0" stop-color="#f1ad00"/><stop offset="0.1346" stop-color="#f1ac00"/><stop offset="0.2238" stop-color="#f1af00"/><stop offset="0.483" stop-color="#f0c700"/><stop offset="0.5368" stop-color="#f0ce02"/><stop offset="0.5581" stop-color="#efd105"/><stop offset="0.5935" stop-color="#eed60f"/><stop offset="0.6402" stop-color="#f0dc26"/><stop offset="0.721" stop-color="#f0eb50"/><stop offset="0.7833" stop-color="#f2f169"/><stop offset="0.9178" stop-color="#f3f47d"/><stop offset="1" stop-color="#f3f37a"/></linearGradient>
<linearGradient id="g71"><stop offset="0" stop-color="#f1ac00"/><stop offset="0.1374" stop-color="#f1ab00"/><stop offset="0.2252" stop-color="#f1af00"/><stop offset="0.4858" stop-color="#f0c700"/><stop offset="0.5397" stop-color="#f0ce02"/><stop offset="0.5609" stop-color="#efd105"/><stop offset="0.5963" stop-color="#eed60f"/><stop offset="0.6431" stop-color="#f0dc26"/><stop offset="0.721" stop-color="#f0ea4f"/><stop offset="0.7833" stop-color="#f2f168"/><stop offset="0.9164" stop-color="#f3f47c"/><stop offset="1" stop-color="#f3f378"/></linearGradient>
<linearGradient id="g72"><stop offset="0" stop-color="#f0ab00"/><stop offset="0.1402" stop-color="#f0aa00"/><stop offset="0.2266" stop-color="#f1ae00"/><stop offset="0.4887" stop-color="#f0c700"/><stop offset="0.5425" stop-color="#f0ce02"/><stop offset="0.5623" stop-color="#efd105"/><stop offset="0.5992" stop-color="#eed610"/><stop offset="0.6445" stop-color="#f0dc26"/><stop offset="0.7195" stop-color="#f0ea4d"/><stop offset="0.7833" stop-color="#f1f067"/><stop offset="0.9164" stop-color="#f3f37b"/><stop offset="1" stop-color="#f3f377"/></linearGradient>
<linearGradient id="g73"><stop offset="0" stop-color="#f0aa00"/><stop offset="0.1431" stop-color="#f0aa00"/><stop offset="0.228" stop-color="#f1ad00"/><stop offset="0.4915" stop-color="#f0c700"/><stop offset="0.5453" stop-color="#f0ce02"/><stop offset="0.5637" stop-color="#efd105"/><stop offset="0.602" stop-color="#eed610"/><stop offset="0.6473" stop-color="#f0dc26"/><stop offset="0.7195" stop-color="#f0ea4c"/><stop offset="0.7847" stop-color="#f1f066"/><stop offset="0.915" stop-color="#f3f37a"/><stop offset="1" stop-color="#f2f376"/></linearGradient>
<linearGradient id="g74"><stop offset="0" stop-color="#f0a900"/><stop offset="0.1459" stop-color="#f0a900"/><stop offset="0.2295" stop-color="#f1ad00"/><stop offset="0.4943" stop-color="#f0c700"/><stop offset="0.5482" stop-color="#f0ce02"/><stop offset="0.5666" stop-color="#efd105"/><stop offset="0.6034" stop-color="#eed60f"/><stop offset="0.6487" stop-color="#f0dc26"/><stop offset="0.7195" stop-color="#f0e94b"/><stop offset="0.7847" stop-color="#f1f065"/><stop offset="0.915" stop-color="#f3f379"/><stop offset="1" stop-color="#f2f374"/></linearGradient>
<linearGradient id="g75"><stop offset="0" stop-color="#f0a900"/><stop offset="0.1473" stop-color="#f0a800"/><stop offset="0.2295" stop-color="#f1ac00"/><stop offset="0.4972" stop-color="#f0c700"/><stop offset="0.5496" stop-color="#f0ce02"/><stop offset="0.568" stop-color="#efd105"/><stop offset="0.6048" stop-color="#eed50f"/><stop offset="0.6501" stop-color="#f0dc26"/><stop offset="0.7195" stop-color="#f0e94a"/><stop offset="0.7847" stop-color="#f1f064"/><stop offset="0.9136" stop-color="#f3f378"/><stop offset="1" stop-color="#f2f273"/></linearGradient>
<linearGradient id="g76"><stop offset="0" stop-color="#f0a800"/><stop offset="0.1501" stop-color="#f0a800"/><stop offset="0.228" stop-color="#f1ab00"/><stop offset="0.5" stop-color="#f0c700"/><stop offset="0.5524" stop-color="#f0ce02"/><stop offset="0.5694" stop-color="#f0d004"/><stop offset="0.6076" stop-color="#eed610"/><stop offset="0.653" stop-color="#f0dc26"/><stop offset="0.7195" stop-color="#f0e949"/><stop offset="0.7861" stop-color="#f1f064"/><stop offset="0.9136" stop-color="#f2f377"/><stop offset="1" stop-color="#f2f272"/></linearGradient>
<linearGradient id="g77"><stop offset="0" stop-color="#f0a700"/><stop offset="0.1516" stop-color="#f0a700"/><stop offset="0.2252" stop-color="#f0aa00"/><stop offset="0.5014" stop-color="#f0c600"/><stop offset="0.5538" stop-color="#f0ce02"/><stop offset="0.5708" stop-color="#f0d004"/><stop offset="0.6091" stop-color="#eed60f"/><stop offset="0.6544" stop-color="#f0dc26"/><stop offset="0.7195" stop-color="#f0e948"/><stop offset="0.7861" stop-color="#f1f063"/><stop offset="0.9122" stop-color="#f2f376"/><stop offset="1" stop-color="#f2f270"/></linearGradient>
<linearGradient id="g78"><stop offset="0" stop-color="#f0a700"/><stop offset="0.153" stop-color="#f0a700"/><stop offset="0.2224" stop-color="#f0aa00"/><stop offset="0.3314" stop-color="#f1b200"/><stop offset="0.5042" stop-color="#f0c600"/><stop offset="0.5552" stop-color="#f0ce02"/><stop offset="0.5722" stop-color="#f0d004"/><stop offset="0.6105" stop-color="#eed60f"/><stop offset="0.6558" stop-color="#f0dc26"/><stop offset="0.7195" stop-color="#f0e848"/><stop offset="0.7861" stop-color="#f1ef62"/><stop offset="0.9122" stop-color="#f2f375"/><stop offset="1" stop-color="#f2f26f"/></linearGradient>
<linearGradient id="g79"><stop offset="0" stop-color="#f0a600"/><stop offset="0.1544" stop-color="#f0a600"/><stop offset="0.221" stop-color="#f0a900"/><stop offset="0.3343" stop-color="#f1b200"/><stop offset="0.5071" stop-color="#f0c600"/><stop offset="0.5567" stop-color="#f0ce02"/><stop offset="0.5737" stop-color="#f0d004"/><stop offset="0.6119" stop-color="#eed60f"/><stop offset="0.6572" stop-color="#f0dc26"/><stop offset="0.7195" stop-color="#f0e847"/><stop offset="0.7861" stop-color="#f1ef61"/><stop offset="0.9108" stop-color="#f2f374"/><stop offset="1" stop-color="#f2f26e"/></linearGradient>
<linearGradient id="g80"><stop offset="0" stop-color="#f0a600"/><stop offset="0.1558" stop-color="#f0a600"/><stop offset="0.2181" stop-color="#f0a900"/><stop offset="0.3357" stop-color="#f1b200"/><stop offset="0.5085" stop-color="#f0c600"/><stop offset="0.5581" stop-color="#f0ce02"/><stop offset="0.5751" stop-color="#f0d004"/><stop offset="0.6119" stop-color="#eed50f"/><stop offset="0.6572" stop-color="#f0dc26"/><stop offset="0.721" stop-color="#f0e847"/><stop offset="0.7875" stop-color="#f1ef61"/><stop offset="0.9108" stop-color="#f2f374"/><stop offset="1" stop-color="#f2f26d"/></linearGradient>
<linearGradient id="g81"><stop offset="0" stop-color="#f0a500"/><stop offset="0.1572" stop-color="#f0a500"/><stop offset="0.2167" stop-color="#f0a800"/><stop offset="0.3371" stop-color="#f1b100"/><stop offset="0.5085" stop-color="#f0c600"/><stop offset="0.5552" stop-color="#f0cd02"/><stop offset="0.5751" stop-color="#f0d004"/><stop offset="0.6133" stop-color="#eed60f"/><stop offset="0.6586" stop-color="#f0dc26"/><stop offset="0.7195" stop-color="#f0e846"/><stop offset="0.7875" stop-color="#f1ef60"/><stop offset="0.9108" stop-color="#f2f273"/><stop offset="1" stop-color="#f2f16c"/></linearGradient>
<linearGradient id="g82"><stop offset="0" stop-color="#f0a500"/><stop offset="0.1586" stop-color="#f0a500"/><stop offset="0.2181" stop-color="#f0a800"/><stop offset="0.3385" stop-color="#f1b100"/><stop offset="0.5113" stop-color="#f0c600"/><stop offset="0.5581" stop-color="#f0cd02"/><stop offset="0.5765" stop-color="#f0d004"/><stop offset="0.6147" stop-color="#eed60f"/><stop offset="0.6601" stop-color="#f0dc26"/><stop offset="0.721" stop-color="#f0e846"/><stop offset="0.7875" stop-color="#f1ef60"/><stop offset="0.9093" stop-color="#f2f273"/><stop offset="1" stop-color="#f2f16b"/></linearGradient>
<linearGradient id="g83"><stop offset="0" stop-color="#f0a500"/><stop offset="0.1586" stop-color="#f0a500"/><stop offset="0.2181" stop-color="#f0a700"/><stop offset="0.3399" stop-color="#f1b100"/><stop offset="0.5113" stop-color="#f0c600"/><stop offset="0.5567" stop-color="#f0cd02"/><stop offset="0.5765" stop-color="#f0d004"/><stop offset="0.6147" stop-color="#eed60f"/><stop offset="0.6601" stop-color="#f0dc26"/><stop offset="0.7195" stop-color="#f0e745"/><stop offset="0.7875" stop-color="#f1ef5f"/><stop offset="0.9093" stop-color="#f2f272"/><stop offset="1" stop-color="#f2f16b"/></linearGradient>
<linearGradient id="g84"><stop offset="0" stop-color="#f0a500"/><stop offset="0.1572" stop-color="#f0a400"/><stop offset="0.2195" stop-color="#f0a700"/><stop offset="0.3414" stop-color="#f1b100"/><stop offset="0.5127" stop-color="#f0c600"/><stop offset="0.5595" stop-color="#f0cd02"/><stop offset="0.5779" stop-color="#f0d004"/><stop offset="0.6147" stop-color="#eed50f"/><stop offset="0.6615" stop-color="#f0dc26"/><stop offset="0.721" stop-color="#f0e845"/><stop offset="0.789" stop-color="#f1ef5f"/><stop offset="0.9093" stop-color="#f2f272"/><stop offset="1" stop-color="#f2f16a"/></linearGradient>
<linearGradient id="g85"><stop offset="0" stop-color="#f0a500"/><stop offset="0.1572" stop-color="#f0a400"/><stop offset="0.221" stop-color="#f0a700"/><stop offset="0.3428" stop-color="#f1b100"/><stop offset="0.5127" stop-color="#f0c600"/><stop offset="0.5581" stop-color="#f0cd02"/><stop offset="0.5779" stop-color="#f0d004"/><stop offset="0.6161" stop-color="#eed60f"/><stop offset="0.6615" stop-color="#f0dc26"/><stop offset="0.721" stop-color="#f0e745"/><stop offset="0.789" stop-color="#f1ef5f"/><stop offset="0.9093" stop-color="#f2f272"/><stop offset="1" stop-color="#f2f16a"/></linearGradient>
<linearGradient id="g86"><stop offset="0" stop-color="#f0a400"/><stop offset="0.1558" stop-color="#f0a400"/><stop offset="0.2224" stop-color="#f0a700"/><stop offset="0.3442" stop-color="#f1b100"/><stop offset="0.5127" stop-color="#f0c600"/><stop offset="0.5581" stop-color="#f0cd02"/><stop offset="0.5779" stop-color="#f0d004"/><stop offset="0.6161" stop-color="#eed60f"/><stop offset="0.6615" stop-color="#f0dc26"/><stop offset="0.721" stop-color="#f0e744"/><stop offset="0.789" stop-color="#f1ef5f"/><stop offset="0.9093" stop-color="#f2f272"/><stop offset="1" stop-color="#f2f169"/></linearGradient>
<linearGradient id="g87"><stop offset="0" stop-color="#f0a400"/><stop offset="0.1558" stop-color="#f0a400"/><stop offset="0.2252" stop-color="#f0a700"/><stop offset="0.3456" stop-color="#f1b100"/><stop offset="0.5142" stop-color="#f0c600"/><stop offset="0.5581" stop-color="#f0cd02"/><stop offset="0.5779" stop-color="#f0d004"/><stop offset="0.6161" stop-color="#eed60f"/><stop offset="0.6615" stop-color="#f0dc26"/><stop offset="0.721" stop-color="#f0e744"/><stop offset="0.789" stop-color="#f1ef5e"/><stop offset="0.9093" stop-color="#f2f272"/><stop offset="1" stop-color="#f2f169"/></linearGradient>
<linearGradient id="g88"><stop offset="0" stop-color="#f0a400"/><stop offset="0.1544" stop-color="#f0a400"/><stop offset="0.2266" stop-color="#f0a700"/><stop offset="0.3456" stop-color="#f1b100"/><stop offset="0.5142" stop-color="#f0c600"/><stop offset="0.5581" stop-color="#f0cd02"/><stop offset="0.5779" stop-color="#f0d004"/><stop offset="0.6161" stop-color="#eed60f"/><stop offset="0.6615" stop-color="#f0dc26"/><stop offset="0.721" stop-color="#f0e744"/><stop offset="0.7904" stop-color="#f1ef5f"/><stop offset="0.9108" stop-color="#f2f272"/><stop offset="1" stop-color="#f2f169"/></linearGradient>
<linearGradient id="g89"><stop offset="0" stop-color="#f0a400"/><stop offset="0.1544" stop-color="#f0a400"/><stop offset="0.228" stop-color="#f0a700"/><stop offset="0.3456" stop-color="#f1b100"/><stop offset="0.5142" stop-color="#f0c600"/><stop offset="0.5609" stop-color="#f0cd02"/><stop offset="0.5793" stop-color="#f0d004"/><stop offset="0.6161" stop-color="#eed50f"/><stop offset="0.6615" stop-color="#f0dc26"/><stop offset="0.7224" stop-color="#f0e845"/><stop offset="0.7918" stop-color="#f1ef5f"/><stop offset="0.9108" stop-color="#f2f272"/><stop offset="1" stop-color="#f2f169"/></linearGradient>
<linearGradient id="g90"><stop offset="0" stop-color="#f0a400"/><stop offset="0.153" stop-color="#f0a400"/><stop offset="0.2295" stop-color="#f0a700"/><stop offset="0.3456" stop-color="#f1b100"/><stop offset="0.5142" stop-color="#f0c600"/><stop offset="0.5609" stop-color="#f0cd02"/><stop offset="0.5793" stop-color="#f0d004"/><stop offset="0.6161" stop-color="#eed50f"/><stop offset="0.6615" stop-color="#f0dc26"/><stop offset="0.721" stop-color="#f0e744"/><stop offset="0.7904" stop-color="#f1ef5f"/><stop offset="0.9108" stop-color="#f2f272"/><stop offset="1" stop-color="#f2f169"/></linearGradient>
<linearGradient id="g91"><stop offset="0" stop-color="#f0a400"/><stop offset="0.153" stop-color="#f0a400"/><stop offset="0.2309" stop-color="#f0a700"/><stop offset="0.347" stop-color="#f1b200"/><stop offset="0.5142" stop-color="#f0c600"/><stop offset="0.5609" stop-color="#f0cd02"/><stop offset="0.5793" stop-color="#f0d004"/><stop offset="0.6161" stop-color="#eed50f"/><stop offset="0.6615" stop-color="#f0dc26"/><stop offset="0.721" stop-color="#f0e745"/><stop offset="0.7904" stop-color="#f1ef5f"/><stop offset="0.9108" stop-color="#f2f272"/><stop offset="1" stop-color="#f2f169"/></linearGradient>
<linearGradient id="g92"><stop offset="0" stop-color="#f0a500"/><stop offset="0.1516" stop-color="#f0a400"/><stop offset="0.2309" stop-color="#f0a700"/><stop offset="0.3456" stop-color="#f1b100"/><stop offset="0.5127" stop-color="#f0c600"/><stop offset="0.5567" stop-color="#f0cd02"/><stop offset="0.5779" stop-color="#f0d004"/><stop offset="0.6161" stop-color="#eed60f"/><stop offset="0.6615" stop-color="#f0dc26"/><stop offset="0.7195" stop-color="#f0e744"/><stop offset="0.7904" stop-color="#f1ef5f"/><stop offset="0.9108" stop-color="#f2f272"/><stop offset="1" stop-color="#f2f169"/></linearGradient>
<linearGradient id="g93"><stop offset="0" stop-color="#f0a500"/><stop offset="0.1501" stop-color="#f0a400"/><stop offset="0.2323" stop-color="#f0a700"/><stop offset="0.3456" stop-color="#f1b100"/><stop offset="0.5127" stop-color="#f0c600"/><stop offset="0.5581" stop-color="#f0cd02"/><stop offset="0.5779" stop-color="#f0d004"/><stop offset="0.6161" stop-color="#eed60f"/><stop offset="0.6615" stop-color="#f0dc26"/><stop offset="0.7195" stop-color="#f0e744"/><stop offset="0.7904" stop-color="#f1ef5f"/><stop offset="0.9093" stop-color="#f2f272"/><stop offset="1" stop-color="#f2f169"/></linearGradient>
<linearGradient id="g94"><stop offset="0" stop-color="#f0a500"/><stop offset="0.1487" stop-color="#f0a400"/><stop offset="0.2323" stop-color="#f0a700"/><stop offset="0.3456" stop-color="#f1b200"/><stop offset="0.5127" stop-color="#f0c600"/><stop offset="0.5581" stop-color="#f0cd02"/><stop offset="0.5779" stop-color="#f0d004"/><stop offset="0.6161" stop-color="#eed60f"/><stop offset="0.6601" stop-color="#f0dc26"/><stop offset="0.7195" stop-color="#f0e744"/><stop offset="0.7904" stop-color="#f1ef5f"/><stop offset="0.9093" stop-color="#f2f272"/><stop offset="1" stop-color="#f2f16a"/></linearGradient>
<linearGradient id="g95"><stop offset="0" stop-color="#f0a500"/><stop offset="0.1487" stop-color="#f0a400"/><stop offset="0.2337" stop-color="#f0a800"/><stop offset="0.3456" stop-color="#f1b200"/><stop offset="0.5127" stop-color="#f0c600"/><stop offset="0.5581" stop-color="#f0cd02"/><stop offset="0.5779" stop-color="#f0d004"/><stop offset="0.6161" stop-color="#eed60f"/><stop offset="0.6601" stop-color="#f0dc26"/><stop offset="0.7195" stop-color="#f0e745"/><stop offset="0.7904" stop-color="#f1ef5f"/><stop offset="0.9093" stop-color="#f2f272"/><stop offset="1" stop-color="#f2f16a"/></linearGradient>
<linearGradient id="g96"><stop offset="0" stop-color="#f0a500"/><stop offset="0.1473" stop-color="#f0a400"/><stop offset="0.2351" stop-color="#f0a800"/><stop offset="0.3442" stop-color="#f1b200"/><stop offset="0.5127" stop-color="#f0c600"/><stop offset="0.5595" stop-color="#f0cd02"/><stop offset="0.5779" stop-color="#f0d004"/><stop offset="0.6147" stop-color="#eed50f"/><stop offset="0.6601" stop-color="#f0dc26"/><stop offset="0.7181" stop-color="#f0e744"/><stop offset="0.7904" stop-color="#f1ef5f"/><stop offset="0.9093" stop-color="#f2f272"/><stop offset="1" stop-color="#f2f16a"/></linearGradient>
<linearGradient id="g97"><stop offset="0" stop-color="#f0a500"/><stop offset="0.1459" stop-color="#f0a400"/><stop offset="0.2351" stop-color="#f0a800"/><stop offset="0.3442" stop-color="#f1b200"/><stop offset="0.5127" stop-color="#f0c600"/><stop offset="0.5595" stop-color="#f0cd02"/><stop offset="0.5779" stop-color="#f0d004"/><stop offset="0.6147" stop-color="#eed50f"/><stop offset="0.6601" stop-color="#f0dc26"/><stop offset="0.7181" stop-color="#f0e744"/><stop offset="0.7904" stop-color="#f1ef5f"/><stop offset="0.9093" stop-color="#f2f272"/><stop offset="1" stop-color="#f2f16a"/></linearGradient>
<linearGradient id="g98"><stop offset="0" stop-color="#f0a500"/><stop offset="0.1445" stop-color="#f0a500"/><stop offset="0.2365" stop-color="#f0a800"/><stop offset="0.3442" stop-color="#f1b200"/><stop offset="0.5113" stop-color="#f0c600"/><stop offset="0.5567" stop-color="#f0cd02"/><stop offset="0.5765" stop-color="#f0d004"/><stop offset="0.6147" stop-color="#eed50f"/><stop offset="0.6586" stop-color="#f0dc26"/><stop offset="0.7167" stop-color="#f0e744"/><stop offset="0.7904" stop-color="#f1ef5f"/><stop offset="0.9093" stop-color="#f2f272"/><stop offset="1" stop-color="#f2f16b"/></linearGradient>
<linearGradient id="g99"><stop offset="0" stop-color="#f0a500"/><stop offset="0.1445" stop-color="#f0a500"/><stop offset="0.2365" stop-color="#f0a800"/><stop offset="0.3428" stop-color="#f1b200"/><stop offset="0.5113" stop-color="#f0c600"/><stop offset="0.5581" stop-color="#f0cd02"/><stop offset="0.5765" stop-color="#f0d004"/><stop offset="0.6147" stop-color="#eed60f"/><stop offset="0.6586" stop-color="#f0dc26"/><stop offset="0.7167" stop-color="#f0e744"/><stop offset="0.7904" stop-color="#f1ef5f"/><stop offset="0.9093" stop-color="#f2f272"/><stop offset="1" stop-color="#f2f16b"/></linearGradient>
</defs>
<text transform="translate(26.4,30.6) scale(.921,1)" font-family="'Liberation Sans',sans-serif" font-size="21.5" fill="#161616">Цвет Равномерность для Яркость 83%</text>
<rect x="26.9" y="66.2" width="749.9" height="237.2" fill="#fff" filter="url(#sh)"/>
<rect x="26.9" y="66.2" width="749.9" height="23.72" fill="url(#hd)"/>
<path d="M26.3,66.20H776.8M26.3,89.92H776.8M26.3,113.64H776.8M26.3,137.36H776.8M26.3,161.08H776.8M26.3,184.80H776.8M26.3,208.52H776.8M26.3,232.24H776.8M26.3,255.96H776.8M26.3,279.68H776.8M26.3,303.40H776.8M26.9,66.20V303.40M272.3,66.20V303.40M554.5,66.20V303.40" stroke="#2c2c2c" stroke-width="1.3" fill="none"/>
<path d="M776.8,66.20V303.40" stroke="#8a8a8a" stroke-width=".8" fill="none"/>
<g font-family="'Liberation Sans',sans-serif" font-size="16" fill="#161616">
<text x="149.6" y="84.3" text-anchor="middle" textLength="50" lengthAdjust="spacingAndGlyphs">Сектор</text>
<text x="413.4" y="84.3" text-anchor="middle">Цвет (Lab)</text>
<text x="665.1" y="84.3" text-anchor="middle">Отклонение дельта-Е</text>
<text x="40.6" y="108.0">1</text>
<text x="40.6" y="131.7">2</text>
<text x="40.6" y="155.5">3 (Максимальное к D65)</text>
<text x="40.6" y="179.2">4</text>
<text x="40.6" y="202.9">5</text>
<text x="40.6" y="226.6">6</text>
<text x="40.6" y="250.3">7</text>
<text x="40.6" y="274.1">8</text>
<text x="40.6" y="297.8">9</text>
</g>
<g font-family="'Liberation Mono',monospace" font-size="15" fill="#1c1c1c" letter-spacing="0.95" style="white-space:pre">
<text x="288" y="107.4">116,87,   4,49,   9,41</text>
<text x="650" y="107.4">2,2</text>
<text x="288" y="131.1">117,22,   4,63,   9,67</text>
<text x="650" y="131.1">2,3</text>
<text x="288" y="154.9">116,31,    ,07,   7,85</text>
<text x="650" y="154.9">0,0</text>
<text x="288" y="178.6"> 18,03,   4,44,   0,55</text>
<text x="650" y="178.6">3,1</text>
<text x="288" y="202.3"> 18,05,    ,09,    ,30</text>
<text x="650" y="202.3">2,6</text>
<text x="288" y="226.0">116,89,   5,92,   8,91</text>
<text x="650" y="226.0">1,0</text>
<text x="288" y="249.7">117,53,   4,76,  11,44</text>
<text x="650" y="249.7">3,8</text>
<text x="288" y="273.5">116,63,   5,11,   0,72</text>
<text x="650" y="273.5">3,0</text>
<text x="288" y="297.2">115,92,   6,47,   9,27</text>
<text x="650" y="297.2">1,5</text>
</g>
<rect x="27.3" y="348.5" width="752.2" height="460" fill="#fff" filter="url(#sh2)"/>
<rect x="27.3" y="348.5" width="752.2" height="460" fill="none" stroke="#333" stroke-width="1.2"/>
<g clip-path="url(#cp)"><g filter="url(#vb)"><rect x="51" y="360" width="707" height="13" fill="url(#g0)"/>
<rect x="51" y="372" width="707" height="5" fill="url(#g0)"/>
<rect x="51" y="376" width="707" height="5" fill="url(#g1)"/>
<rect x="51" y="380" width="707" height="5" fill="url(#g2)"/>
<rect x="51" y="384" width="707" height="5" fill="url(#g3)"/>
<rect x="51" y="388" width="707" height="5" fill="url(#g4)"/>
<rect x="51" y="392" width="707" height="5" fill="url(#g5)"/>
<rect x="51" y="396" width="707" height="5" fill="url(#g6)"/>
<rect x="51" y="400" width="707" height="5" fill="url(#g7)"/>
<rect x="51" y="404" width="707" height="5" fill="url(#g8)"/>
<rect x="51" y="408" width="707" height="5" fill="url(#g9)"/>
<rect x="51" y="412" width="707" height="5" fill="url(#g10)"/>
<rect x="51" y="416" width="707" height="5" fill="url(#g11)"/>
<rect x="51" y="420" width="707" height="5" fill="url(#g12)"/>
<rect x="51" y="424" width="707" height="5" fill="url(#g13)"/>
<rect x="51" y="428" width="707" height="5" fill="url(#g14)"/>
<rect x="51" y="432" width="707" height="5" fill="url(#g15)"/>
<rect x="51" y="436" width="707" height="5" fill="url(#g16)"/>
<rect x="51" y="440" width="707" height="5" fill="url(#g17)"/>
<rect x="51" y="444" width="707" height="5" fill="url(#g18)"/>
<rect x="51" y="448" width="707" height="5" fill="url(#g19)"/>
<rect x="51" y="452" width="707" height="5" fill="url(#g20)"/>
<rect x="51" y="456" width="707" height="5" fill="url(#g21)"/>
<rect x="51" y="460" width="707" height="5" fill="url(#g22)"/>
<rect x="51" y="464" width="707" height="5" fill="url(#g23)"/>
<rect x="51" y="468" width="707" height="5" fill="url(#g24)"/>
<rect x="51" y="472" width="707" height="5" fill="url(#g25)"/>
<rect x="51" y="476" width="707" height="5" fill="url(#g26)"/>
<rect x="51" y="480" width="707" height="5" fill="url(#g27)"/>
<rect x="51" y="484" width="707" height="5" fill="url(#g28)"/>
<rect x="51" y="488" width="707" height="5" fill="url(#g29)"/>
<rect x="51" y="492" width="707" height="5" fill="url(#g30)"/>
<rect x="51" y="496" width="707" height="5" fill="url(#g31)"/>
<rect x="51" y="500" width="707" height="5" fill="url(#g32)"/>
<rect x="51" y="504" width="707" height="5" fill="url(#g33)"/>
<rect x="51" y="508" width="707" height="5" fill="url(#g34)"/>
<rect x="51" y="512" width="707" height="5" fill="url(#g35)"/>
<rect x="51" y="516" width="707" height="5" fill="url(#g36)"/>
<rect x="51" y="520" width="707" height="5" fill="url(#g37)"/>
<rect x="51" y="524" width="707" height="5" fill="url(#g38)"/>
<rect x="51" y="528" width="707" height="5" fill="url(#g39)"/>
<rect x="51" y="532" width="707" height="5" fill="url(#g40)"/>
<rect x="51" y="536" width="707" height="5" fill="url(#g41)"/>
<rect x="51" y="540" width="707" height="5" fill="url(#g42)"/>
<rect x="51" y="544" width="707" height="5" fill="url(#g43)"/>
<rect x="51" y="548" width="707" height="5" fill="url(#g44)"/>
<rect x="51" y="552" width="707" height="5" fill="url(#g45)"/>
<rect x="51" y="556" width="707" height="5" fill="url(#g46)"/>
<rect x="51" y="560" width="707" height="5" fill="url(#g47)"/>
<rect x="51" y="564" width="707" height="5" fill="url(#g48)"/>
<rect x="51" y="568" width="707" height="5" fill="url(#g49)"/>
<rect x="51" y="572" width="707" height="5" fill="url(#g50)"/>
<rect x="51" y="576" width="707" height="5" fill="url(#g51)"/>
<rect x="51" y="580" width="707" height="5" fill="url(#g52)"/>
<rect x="51" y="584" width="707" height="5" fill="url(#g53)"/>
<rect x="51" y="588" width="707" height="5" fill="url(#g54)"/>
<rect x="51" y="592" width="707" height="5" fill="url(#g55)"/>
<rect x="51" y="596" width="707" height="5" fill="url(#g56)"/>
<rect x="51" y="600" width="707" height="5" fill="url(#g57)"/>
<rect x="51" y="604" width="707" height="5" fill="url(#g58)"/>
<rect x="51" y="608" width="707" height="5" fill="url(#g59)"/>
<rect x="51" y="612" width="707" height="5" fill="url(#g60)"/>
<rect x="51" y="616" width="707" height="5" fill="url(#g61)"/>
<rect x="51" y="620" width="707" height="5" fill="url(#g62)"/>
<rect x="51" y="624" width="707" height="5" fill="url(#g63)"/>
<rect x="51" y="628" width="707" height="5" fill="url(#g64)"/>
<rect x="51" y="632" width="707" height="5" fill="url(#g65)"/>
<rect x="51" y="636" width="707" height="5" fill="url(#g66)"/>
<rect x="51" y="640" width="707" height="5" fill="url(#g67)"/>
<rect x="51" y="644" width="707" height="5" fill="url(#g68)"/>
<rect x="51" y="648" width="707" height="5" fill="url(#g69)"/>
<rect x="51" y="652" width="707" height="5" fill="url(#g70)"/>
<rect x="51" y="656" width="707" height="5" fill="url(#g71)"/>
<rect x="51" y="660" width="707" height="5" fill="url(#g72)"/>
<rect x="51" y="664" width="707" height="5" fill="url(#g73)"/>
<rect x="51" y="668" width="707" height="5" fill="url(#g74)"/>
<rect x="51" y="672" width="707" height="5" fill="url(#g75)"/>
<rect x="51" y="676" width="707" height="5" fill="url(#g76)"/>
<rect x="51" y="680" width="707" height="5" fill="url(#g77)"/>
<rect x="51" y="684" width="707" height="5" fill="url(#g78)"/>
<rect x="51" y="688" width="707" height="5" fill="url(#g79)"/>
<rect x="51" y="692" width="707" height="5" fill="url(#g80)"/>
<rect x="51" y="696" width="707" height="5" fill="url(#g81)"/>
<rect x="51" y="700" width="707" height="5" fill="url(#g82)"/>
<rect x="51" y="704" width="707" height="5" fill="url(#g83)"/>
<rect x="51" y="708" width="707" height="5" fill="url(#g84)"/>
<rect x="51" y="712" width="707" height="5" fill="url(#g85)"/>
<rect x="51" y="716" width="707" height="5" fill="url(#g86)"/>
<rect x="51" y="720" width="707" height="5" fill="url(#g87)"/>
<rect x="51" y="724" width="707" height="5" fill="url(#g88)"/>
<rect x="51" y="728" width="707" height="5" fill="url(#g89)"/>
<rect x="51" y="732" width="707" height="5" fill="url(#g90)"/>
<rect x="51" y="736" width="707" height="5" fill="url(#g91)"/>
<rect x="51" y="740" width="707" height="5" fill="url(#g92)"/>
<rect x="51" y="744" width="707" height="5" fill="url(#g93)"/>
<rect x="51" y="748" width="707" height="5" fill="url(#g94)"/>
<rect x="51" y="752" width="707" height="5" fill="url(#g95)"/>
<rect x="51" y="756" width="707" height="5" fill="url(#g96)"/>
<rect x="51" y="760" width="707" height="5" fill="url(#g97)"/>
<rect x="51" y="764" width="707" height="5" fill="url(#g98)"/>
<rect x="51" y="768" width="707" height="1" fill="url(#g99)"/>
<rect x="51" y="768" width="707" height="12" fill="url(#g99)"/></g>
<path d="M286.3,372V768 M521.7,372V768 M51,504.2H757 M51,637.0H757" stroke="#c8c8bc" stroke-width="1.45" fill="none" opacity=".95"/>
<g stroke="#33331c" stroke-width="1.3" fill="none" opacity=".55"><path d="M638.8,372.0 636.0,378.0 634.0,383.5 632.4,389.0 631.1,395.0 630.3,401.0 630.1,407.0 630.3,412.0 631.0,417.3 632.1,422.0 633.7,427.0 636.0,431.8 638.6,436.0 641.0,439.0 645.0,442.9 649.0,445.9 652.5,448.0 657.0,450.2 662.0,452.1 668.0,453.8 673.0,454.8 679.0,455.6 685.0,456.0 691.0,455.9 697.0,455.5 702.0,454.9 707.0,453.9 714.0,452.3 722.1,450.0 740.9,444.0 749.2,441.0 757.0,437.9"/>
<path d="M572.2,372.0 570.7,382.0 569.7,391.0 569.1,401.0 569.0,410.0 569.4,418.0 570.2,426.0 571.3,432.0 573.1,439.0 576.0,447.7 579.4,456.0 583.0,463.4 587.0,470.0 591.0,475.5 595.0,479.9 599.0,483.3 606.0,488.8 613.0,493.5 620.0,497.5 627.0,500.8 634.0,503.7 642.0,506.3 650.0,508.4 659.0,510.2 668.0,511.4 677.0,512.2 687.0,512.5 697.0,512.5 708.0,512.0 718.0,511.2 728.0,510.1 757.0,505.7"/>
<path d="M529.5,372.0 528.1,388.0 527.6,399.0 527.8,409.0 528.8,419.0 530.4,430.0 532.7,441.0 537.5,459.0 540.3,470.0 542.7,478.0 545.4,484.0 548.8,490.0 552.1,495.0 557.0,501.4 564.0,509.5 571.0,516.9 580.0,525.8 588.0,533.0 596.0,539.2 607.0,546.9 617.0,553.3 625.0,557.7 632.0,561.0 638.0,563.0 647.0,565.6 657.0,567.8 667.0,569.3 676.0,570.1 688.0,570.4 699.0,570.1 708.0,569.5 717.0,568.5 726.0,567.1 747.0,563.6 753.0,562.8 757.0,562.5"/>
<path d="M490.9,372.0 489.3,395.0 488.8,405.0 488.8,414.0 489.3,422.0 491.2,438.0 494.6,459.0 497.3,472.0 498.7,477.0 500.0,481.0 504.0,490.0 513.8,509.0 518.8,518.0 523.8,526.0 529.2,534.0 549.1,562.0 562.3,581.0 582.4,612.0 600.0,640.0 622.0,672.3 628.0,680.7 639.4,694.0 641.4,697.0 643.6,701.0 645.0,704.0 646.5,708.0 648.2,714.0 649.2,721.0 649.4,728.0 648.9,735.0 647.7,744.0 646.3,751.0 643.4,762.0 642.9,765.0 642.5,768.0"/>
<path d="M752.1,768.0 744.7,754.0 742.5,749.0 740.6,744.0 739.4,740.0 738.9,737.0 738.6,732.0 738.7,728.0 739.3,724.0 740.5,720.0 742.2,716.0 744.6,712.0 747.7,708.0 750.8,705.0 754.0,702.6 757.0,701.0"/>
<path d="M445.5,372.0 445.8,384.0 445.5,415.0 445.9,424.0 446.7,434.0 448.8,452.0 450.7,464.0 453.7,478.0 457.0,490.0 459.6,498.0 466.6,518.0 470.4,528.0 474.3,537.0 476.8,542.0 481.0,549.5 485.6,559.0 493.1,575.0 501.4,594.0 504.0,599.5 507.0,604.9 518.5,624.0 521.0,629.0 523.8,635.0 528.5,647.0 535.7,667.0 539.3,678.0 542.1,688.0 543.9,696.0 545.4,705.0 546.3,713.0 546.8,721.0 546.7,729.0 546.3,737.0 545.6,746.0 543.8,762.0 543.5,768.0"/>
<path d="M51.0,489.9 62.0,490.4 76.0,490.6 125.0,490.1 170.0,490.5 178.0,490.3 186.0,489.7 196.0,488.7 209.0,487.1 244.0,482.1 255.0,480.3 264.0,478.6 272.0,476.7 307.0,467.7 315.0,466.3 322.0,465.6 325.0,465.5 328.0,465.6 332.0,466.2 335.2,467.0 338.3,468.0 342.0,469.5 346.0,471.5 349.0,473.3 355.0,477.6 363.0,484.3 369.0,490.1 376.0,498.0 380.0,503.1 383.0,507.3 394.3,525.0 402.0,536.5 406.0,543.0 409.0,548.4 422.4,575.0 425.6,581.0 436.4,600.0 460.0,640.5 466.2,652.0 471.0,662.0 475.1,672.0 478.5,683.0 481.0,694.0 482.4,704.0 483.4,717.0 483.7,732.0 483.4,750.0 482.5,768.0"/>
<path d="M51.0,552.9 77.0,552.5 118.0,550.7 130.0,550.6 169.0,552.4 186.0,554.4 218.0,557.8 228.0,559.5 238.0,561.8 248.0,564.6 258.0,567.9 270.0,572.6 279.0,576.5 288.0,581.1 297.0,586.2 305.0,591.3 335.0,611.3 344.0,618.2 352.9,626.0 358.0,631.0 364.0,637.2 371.0,644.9 377.0,652.0 382.6,659.0 388.5,667.0 393.0,673.3 396.6,679.0 401.0,687.0 402.7,691.0 404.2,695.0 406.6,704.0 407.6,709.0 408.3,714.0 408.9,725.0 408.8,739.0 408.0,753.0 406.5,768.0"/>
<path d="M51.0,633.5 66.0,631.9 80.0,630.7 93.0,630.0 106.0,629.6 122.0,629.6 134.0,630.0 146.0,630.8 157.0,632.1 168.0,633.8 179.0,636.0 191.0,639.0 201.1,642.0 211.0,645.5 220.0,649.3 229.9,654.0 239.3,659.0 248.0,664.2 256.8,670.0 265.0,676.0 272.2,682.0 277.4,687.0 281.7,692.0 285.1,697.0 288.3,703.0 289.5,706.0 290.4,709.0 291.8,716.0 292.5,723.0 292.6,732.0 292.3,740.0 291.4,748.0 290.1,756.0 287.7,768.0"/></g>
</g>
<rect x="51.4" y="372.5" width="706" height="396" fill="none" stroke="#222" stroke-width="1.25"/>
<g font-family="'Liberation Mono',monospace" font-size="21" fill="#74778f" stroke="#74778f" stroke-width=".5" letter-spacing="0.9" text-anchor="middle">
<text transform="translate(168.5,430.0) scale(.94,1)">2,2</text>
<text transform="translate(403.8,430.0) scale(.94,1)">2,3</text>
<text transform="translate(639.1,430.0) scale(.94,1)">0,0</text>
<text transform="translate(168.5,563.0) scale(.94,1)">3,1</text>
<text transform="translate(403.8,563.0) scale(.94,1)">2,6</text>
<text transform="translate(639.1,563.0) scale(.94,1)">1,0</text>
<text transform="translate(168.5,695.0) scale(.94,1)">3,8</text>
<text transform="translate(403.8,695.0) scale(.94,1)">3,0</text>
<text transform="translate(639.1,695.0) scale(.94,1)">1,5</text>
</g>
<text x="579.6" y="755.4" font-family="'Liberation Sans',sans-serif" font-size="20.8" fill="#fff" stroke="#fff" stroke-width=".75" textLength="95" lengthAdjust="spacing">datacolor</text>
<rect x="677.5" y="744.8" width="67.2" height="11.6" fill="#ea2e33"/>
<path d="M579,760H745" stroke="#fff" stroke-width="1.2"/>
</svg>
</body></html>
